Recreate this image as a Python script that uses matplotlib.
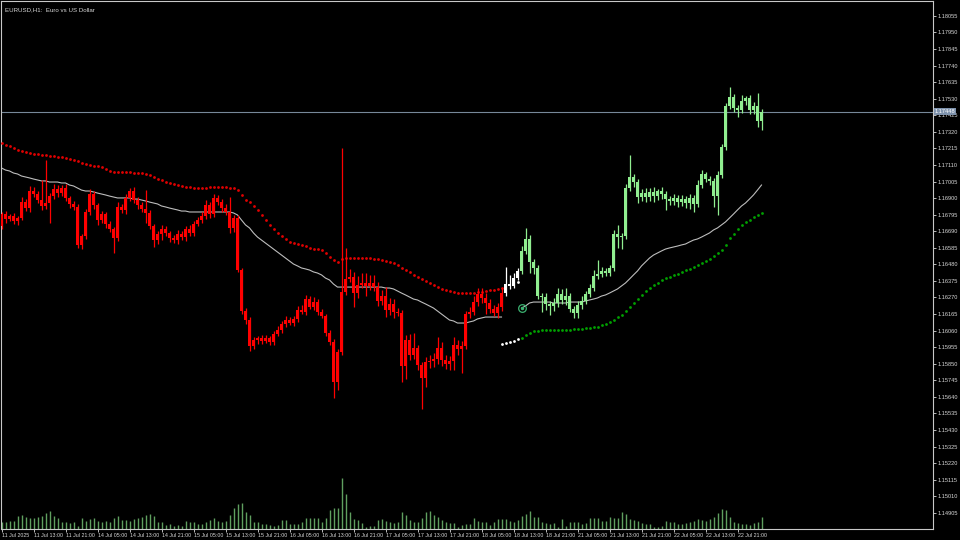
import numpy as np
import matplotlib
matplotlib.use("Agg")
import matplotlib.pyplot as plt

# ---------------- data (EURUSD H1, 11 Jul 2025 05:00 -> 23 Jul 2025 03:00) ----------------
title = "EURUSD,H1:  Euro vs US Dollar"
first_open = 1.16723
close = [
 1.16799, 1.16768, 1.16787, 1.16755, 1.16774, 1.16875, 1.16837, 1.16945, 1.16926, 1.16888,
 1.16850, 1.16869, 1.16913, 1.16958, 1.16932, 1.16964, 1.16901, 1.16863, 1.16844, 1.16603,
 1.16660, 1.16812, 1.16926, 1.16856, 1.16761, 1.16799, 1.16736, 1.16704, 1.16647, 1.16844,
 1.16825, 1.16901, 1.16945, 1.16888, 1.16856, 1.16831, 1.16806, 1.16723, 1.16634, 1.16672,
 1.16704, 1.16679, 1.16647, 1.16634, 1.16672, 1.16653, 1.16704, 1.16679, 1.16736, 1.16761,
 1.16787, 1.16856, 1.16799, 1.16901, 1.16875, 1.16837, 1.16812, 1.16711, 1.16774, 1.16444,
 1.16184, 1.16127, 1.15962, 1.16000, 1.16013, 1.15994, 1.16013, 1.15988, 1.16038, 1.16064,
 1.16102, 1.16127, 1.16108, 1.16134, 1.16191, 1.16178, 1.16260, 1.16210, 1.16241, 1.16178,
 1.16153, 1.16045, 1.15988, 1.15734, 1.15924, 1.16305, 1.16387, 1.16400, 1.16298, 1.16349,
 1.16362, 1.16343, 1.16362, 1.16336, 1.16248, 1.16279, 1.16191, 1.16229, 1.16178, 1.16172,
 1.15836, 1.16000, 1.15905, 1.15950, 1.15842, 1.15760, 1.15861, 1.15867, 1.15880, 1.15950,
 1.15874, 1.15848, 1.15867, 1.15969, 1.15943, 1.15962, 1.16165, 1.16178, 1.16241, 1.16292,
 1.16267, 1.16235, 1.16197, 1.16172, 1.16210, 1.16298, 1.16355, 1.16343, 1.16393, 1.16438,
 1.16565, 1.16641, 1.16495, 1.16457, 1.16279, 1.16273, 1.16229, 1.16216, 1.16235, 1.16292,
 1.16254, 1.16279, 1.16197, 1.16172, 1.16222, 1.16248, 1.16292, 1.16330, 1.16406, 1.16419,
 1.16438, 1.16425, 1.16457, 1.16672, 1.16653, 1.16660, 1.16964, 1.17034, 1.17002, 1.16907,
 1.16932, 1.16907, 1.16939, 1.16913, 1.16945, 1.16926, 1.16894, 1.16882, 1.16901, 1.16875,
 1.16894, 1.16869, 1.16901, 1.16863, 1.16983, 1.17053, 1.17021, 1.17008, 1.16913, 1.17046,
 1.17224, 1.17484, 1.17541, 1.17471, 1.17459, 1.17516, 1.17535, 1.17459, 1.17484, 1.17389,
 1.17448]

# wick lengths beyond the body, in points (0.00001)
wick_up = [
 15, 20, 15, 20, 15, 30, 20, 30, 25, 20, 125, 270, 20, 30, 25, 20, 25, 15, 20, 20,
 15, 20, 30, 20, 15, 20, 15, 20, 15, 30, 20, 25, 20, 25, 20, 20, 120, 20, 15, 20,
 25, 20, 15, 20, 25, 20, 20, 25, 20, 20, 25, 30, 20, 25, 20, 20, 25, 95, 20, 20,
 15, 20, 20, 20, 15, 20, 20, 15, 20, 25, 20, 25, 20, 20, 25, 30, 25, 20, 30, 20,
 20, 15, 20, 20, 20, 915, 195, 50, 30, 60, 65, 65, 50, 50, 30, 40, 60, 40, 30, 25,
 20, 30, 40, 95, 20, 20, 30, 40, 40, 70, 40, 30, 30, 50, 30, 30, 20, 30, 40, 40,
 40, 30, 25, 25, 25, 30, 110, 55, 30, 20, 30, 70, 25, 20, 20, 20, 25, 20, 30, 40,
 30, 50, 20, 20, 25, 30, 20, 25, 40, 90, 25, 20, 20, 25, 55, 20, 25, 140, 20, 20,
 25, 30, 25, 30, 15, 25, 20, 20, 25, 20, 25, 20, 25, 20, 30, 25, 15, 20, 20, 25,
 20, 20, 65, 20, 20, 40, 10, 20, 25, 80, 20]
wick_dn = [
 20, 25, 15, 20, 25, 15, 20, 25, 20, 20, 25, 20, 125, 20, 25, 20, 20, 25, 20, 20,
 25, 20, 20, 25, 30, 20, 25, 20, 95, 20, 20, 25, 20, 20, 25, 20, 65, 20, 45, 25,
 40, 20, 25, 20, 25, 20, 25, 20, 20, 15, 20, 20, 25, 20, 20, 25, 20, 30, 25, 15,
 20, 25, 30, 20, 25, 20, 15, 20, 20, 15, 20, 20, 15, 20, 20, 15, 20, 15, 20, 20,
 15, 20, 20, 100, 50, 20, 20, 20, 90, 30, 20, 65, 25, 25, 30, 25, 45, 30, 35, 20,
 105, 80, 30, 25, 30, 200, 60, 40, 35, 30, 40, 30, 35, 55, 40, 150, 20, 25, 20, 25,
 30, 70, 25, 20, 35, 25, 20, 20, 15, 15, 20, 20, 70, 40, 20, 95, 40, 55, 30, 25,
 25, 30, 20, 30, 30, 25, 20, 20, 20, 20, 20, 20, 20, 20, 70, 75, 20, 20, 30, 40,
 25, 30, 25, 35, 25, 30, 70, 25, 25, 30, 25, 30, 40, 50, 20, 20, 20, 25, 70, 120,
 20, 20, 20, 25, 45, 20, 25, 25, 25, 40, 55]

volume = [
 2100, 2190, 2400, 2490, 3900, 4200, 3690, 3210, 3210, 3690, 3990, 4890, 5490, 3900, 3210, 2190, 2190, 1890, 2010, 900,
 3210, 2490, 2910, 3210, 2490, 2190, 2400, 2190, 3210, 3900, 2700, 2700, 2400, 2910, 3210, 3690, 4200, 4500, 3900, 2190,
 2010, 1200, 1500, 900, 1200, 900, 2490, 2190, 2190, 1500, 1500, 2010, 2700, 3210, 2400, 2190, 2490, 4200, 6210, 7500,
 7710, 5010, 4200, 2190, 2190, 1500, 1500, 1200, 900, 1200, 2700, 2700, 1500, 1500, 1500, 2190, 3210, 3210, 3210, 3210,
 2190, 3210, 5700, 6210, 6210, 15300, 10500, 5190, 3000, 2700, 1710, 690, 990, 900, 2700, 3000, 2490, 2010, 1710, 2190,
 5190, 4200, 2700, 2190, 2190, 3210, 5190, 5400, 4200, 3690, 2700, 2010, 1710, 1710, 690, 1200, 1500, 1500, 3210, 2400,
 2190, 2190, 1200, 2190, 3000, 3000, 3000, 2490, 2190, 2700, 3990, 4500, 5400, 3690, 3510, 2190, 1710, 1500, 1710, 690,
 2910, 900, 2190, 2190, 2010, 1500, 1710, 3210, 3210, 3210, 2490, 2490, 3510, 3210, 3210, 5190, 4500, 3000, 2700, 2400,
 1710, 1500, 1500, 690, 690, 900, 2490, 2010, 2010, 1500, 1500, 1710, 2190, 2490, 3000, 2700, 2490, 3000, 3690, 4890,
 5910, 5700, 3690, 2190, 1710, 1500, 1500, 1200, 1710, 2190, 3690]

# trend regime of each bar: down (red), neutral (white), up (green)
regime = ["down"] * 126 + ["neutral"] * 4 + ["up"] * 61

# trailing-stop dots
upper_red = [
 1.17249, 1.17237, 1.17231, 1.17218, 1.17205, 1.17199, 1.17192, 1.17186, 1.17180, 1.17180,
 1.17173, 1.17173, 1.17167, 1.17167, 1.17161, 1.17161, 1.17154, 1.17148, 1.17142, 1.17135,
 1.17123, 1.17116, 1.17110, 1.17104, 1.17104, 1.17097, 1.17085, 1.17072, 1.17066, 1.17066,
 1.17066, 1.17066, 1.17066, 1.17059, 1.17059, 1.17059, 1.17053, 1.17047, 1.17034, 1.17021,
 1.17015, 1.17002, 1.16996, 1.16989, 1.16983, 1.16977, 1.16970, 1.16970, 1.16964, 1.16964,
 1.16964, 1.16964, 1.16970, 1.16970, 1.16970, 1.16970, 1.16970, 1.16964, 1.16964, 1.16951,
 1.16920, 1.16888, 1.16875, 1.16850, 1.16825, 1.16793, 1.16761, 1.16730, 1.16704, 1.16679,
 1.16660, 1.16641, 1.16622, 1.16615, 1.16609, 1.16603, 1.16596, 1.16584, 1.16577, 1.16577,
 1.16571, 1.16552, 1.16527, 1.16508, 1.16495, 1.16514, 1.16520, 1.16520, 1.16520, 1.16520,
 1.16520, 1.16520, 1.16520, 1.16514, 1.16514, 1.16508, 1.16501, 1.16495, 1.16489, 1.16476,
 1.16457, 1.16444, 1.16432, 1.16413, 1.16400, 1.16387, 1.16374, 1.16362, 1.16349, 1.16336,
 1.16324, 1.16317, 1.16311, 1.16305, 1.16298, 1.16298, 1.16298, 1.16298, 1.16298, 1.16305,
 1.16305, 1.16311, 1.16317, 1.16317, 1.16324, 1.16330]
upper_red_start = 0
upper_white = [1.16368]
upper_white_start = 129
lower_white = [1.15975, 1.15981, 1.15988, 1.15994, 1.16007]
lower_white_start = 125
lower_green = [
 1.16013, 1.16032, 1.16045, 1.16057, 1.16057, 1.16064, 1.16064, 1.16064, 1.16064, 1.16064,
 1.16064, 1.16064, 1.16064, 1.16070, 1.16070, 1.16070, 1.16077, 1.16077, 1.16083, 1.16083,
 1.16096, 1.16102, 1.16115, 1.16127, 1.16146, 1.16159, 1.16184, 1.16210, 1.16235, 1.16260,
 1.16286, 1.16311, 1.16330, 1.16349, 1.16362, 1.16381, 1.16393, 1.16400, 1.16413, 1.16419,
 1.16432, 1.16444, 1.16451, 1.16463, 1.16476, 1.16489, 1.16501, 1.16514, 1.16533, 1.16552,
 1.16571, 1.16603, 1.16647, 1.16672, 1.16704, 1.16730, 1.16749, 1.16761, 1.16780, 1.16793,
 1.16806]
lower_green_start = 130

# moving-average (silver) line, two segments
ma_down = [
 1.17091, 1.17078, 1.17072, 1.17059, 1.17053, 1.17040, 1.17034, 1.17028, 1.17021, 1.17015,
 1.17009, 1.17009, 1.17002, 1.17002, 1.17002, 1.16996, 1.16996, 1.16983, 1.16977, 1.16964,
 1.16951, 1.16945, 1.16945, 1.16939, 1.16932, 1.16926, 1.16920, 1.16913, 1.16907, 1.16901,
 1.16901, 1.16901, 1.16901, 1.16894, 1.16894, 1.16888, 1.16882, 1.16875, 1.16869, 1.16863,
 1.16850, 1.16844, 1.16837, 1.16831, 1.16825, 1.16818, 1.16818, 1.16812, 1.16812, 1.16812,
 1.16812, 1.16812, 1.16812, 1.16812, 1.16812, 1.16812, 1.16812, 1.16812, 1.16806, 1.16793,
 1.16761, 1.16730, 1.16711, 1.16679, 1.16653, 1.16634, 1.16615, 1.16596, 1.16577, 1.16558,
 1.16539, 1.16520, 1.16501, 1.16482, 1.16470, 1.16457, 1.16451, 1.16444, 1.16432, 1.16425,
 1.16413, 1.16393, 1.16381, 1.16355, 1.16336, 1.16336, 1.16336, 1.16336, 1.16336, 1.16336,
 1.16336, 1.16336, 1.16336, 1.16336, 1.16336, 1.16336, 1.16330, 1.16330, 1.16324, 1.16311,
 1.16298, 1.16286, 1.16273, 1.16260, 1.16254, 1.16241, 1.16229, 1.16216, 1.16203, 1.16184,
 1.16165, 1.16146, 1.16127, 1.16121, 1.16108, 1.16108, 1.16108, 1.16115, 1.16121, 1.16134,
 1.16140, 1.16146, 1.16146, 1.16146, 1.16146, 1.16146]
ma_down_start = 0
ma_up = [
 1.16203, 1.16216, 1.16235, 1.16241, 1.16241, 1.16241, 1.16241, 1.16241, 1.16235, 1.16235,
 1.16235, 1.16235, 1.16241, 1.16241, 1.16241, 1.16241, 1.16248, 1.16254, 1.16260, 1.16267,
 1.16279, 1.16286, 1.16298, 1.16311, 1.16324, 1.16343, 1.16362, 1.16387, 1.16413, 1.16438,
 1.16470, 1.16495, 1.16520, 1.16539, 1.16552, 1.16565, 1.16577, 1.16584, 1.16590, 1.16596,
 1.16603, 1.16609, 1.16622, 1.16634, 1.16641, 1.16653, 1.16666, 1.16679, 1.16698, 1.16711,
 1.16730, 1.16749, 1.16774, 1.16799, 1.16825, 1.16850, 1.16869, 1.16894, 1.16920, 1.16951,
 1.16983]
ma_up_start = 130
signal_bar = 130   # circle marker where the up-trend line starts

bid_price = 1.17448

y_ticks = [1.18055, 1.17950, 1.17845, 1.17740, 1.17635, 1.17530, 1.17425, 1.17320, 1.17215,
           1.17110, 1.17005, 1.16900, 1.16795, 1.16690, 1.16585, 1.16480, 1.16375, 1.16270,
           1.16165, 1.16060, 1.15955, 1.15850, 1.15745, 1.15640, 1.15535, 1.15430, 1.15325,
           1.15220, 1.15115, 1.15010, 1.14905]
x_tick_bars = [0, 8, 16, 24, 32, 40, 48, 56, 64, 72, 80, 88, 96, 104, 112, 120, 128,
               136, 144, 152, 160, 168, 176, 184]
x_tick_labels = ["11 Jul 2025", "11 Jul 13:00", "11 Jul 21:00", "14 Jul 05:00", "14 Jul 13:00",
                 "14 Jul 21:00", "15 Jul 05:00", "15 Jul 13:00", "15 Jul 21:00", "16 Jul 05:00",
                 "16 Jul 13:00", "16 Jul 21:00", "17 Jul 05:00", "17 Jul 13:00", "17 Jul 21:00",
                 "18 Jul 05:00", "18 Jul 13:00", "18 Jul 21:00", "21 Jul 05:00", "21 Jul 13:00",
                 "21 Jul 21:00", "22 Jul 05:00", "22 Jul 13:00", "22 Jul 21:00"]

# ---------------- styling ----------------
plt.rcParams['font.family'] = ['Liberation Sans', 'DejaVu Sans']
BG = "black"
FG = "#d8d8d8"
FRAME = "#c8c8c8"
col = {"down": "#ff0000", "neutral": "#ffffff", "up": "#90ee90"}

W, H = 960, 540
fig = plt.figure(figsize=(W / 100, H / 100), dpi=100, facecolor=BG)
rect = [1 / W, 11 / H, 932 / W, 528 / H]

# volume axes (behind)
axv = fig.add_axes(rect, facecolor=BG)
n = len(close)
idx = np.arange(n)
vol = np.array(volume, dtype=float)
axv.vlines(idx, 0, vol, color="#5f9f5f", linewidth=1.0)
axv.set_xlim(-0.125, 232.875)
axv.set_ylim(0, vol.max() * 528 / 51)
axv.axis("off")

ax = fig.add_axes(rect, facecolor="none")
ax.set_xlim(-0.125, 232.875)
ax.set_ylim(1.148021, 1.181497)

c = np.array(close)
o = np.concatenate([[first_open], c[:-1]])
top = np.maximum(o, c)
bot = np.minimum(o, c)
hi = top + np.array(wick_up) / 1e5
lo = bot - np.array(wick_dn) / 1e5
colors = [col[r] for r in regime]

# bid line
ax.axhline(bid_price, color="#778899", linewidth=0.8, zorder=1)

# MA line segments
ax.plot(np.arange(ma_down_start, ma_down_start + len(ma_down)), ma_down,
        color="#bdbdbd", linewidth=0.8, zorder=2)
ax.plot(np.arange(ma_up_start, ma_up_start + len(ma_up)), ma_up,
        color="#bdbdbd", linewidth=0.8, zorder=2)

# dots
def dots(vals, start, color):
    ax.plot(np.arange(start, start + len(vals)), vals, linestyle="none", marker="o",
            markersize=2.0, markeredgewidth=0, color=color, zorder=3)

dots(upper_red, upper_red_start, "#e00000")
dots(upper_white, upper_white_start, "#ffffff")
dots(lower_white, lower_white_start, "#ffffff")
dots(lower_green, lower_green_start, "#00a000")

# candles
ax.vlines(idx, lo, hi, colors=colors, linewidth=0.9, zorder=4)
body_h = np.maximum(top - bot, 0.00005)
ax.bar(idx, body_h, bottom=bot, width=0.68, color=colors, linewidth=0, zorder=5)

# signal circle
ax.plot([signal_bar], [ma_up[signal_bar - ma_up_start]], marker="o", markersize=5.5,
        markerfacecolor="none", markeredgecolor="#3cb371", markeredgewidth=0.9, zorder=6)
ax.plot([signal_bar], [ma_up[signal_bar - ma_up_start]], marker="o", markersize=1.5,
        color="#3cb371", zorder=6)

# frame & ticks
for s in ax.spines.values():
    s.set_color(FRAME)
    s.set_linewidth(0.8)
ax.yaxis.tick_right()
ax.set_yticks(y_ticks)
ax.set_yticklabels([f"{v:.5f}" for v in y_ticks])
ax.set_xticks(x_tick_bars)
ax.set_xticklabels(x_tick_labels, ha="left")
ax.tick_params(axis="y", colors=FG, length=2.2, width=0.6, labelsize=4.1, pad=1.0)
ax.tick_params(axis="x", colors=FG, length=2.2, width=0.6, labelsize=3.8, pad=0.6)

# title
ax.text(0.004, 0.988, title, transform=ax.transAxes, color=FG, fontsize=4.4,
        ha="left", va="top")

# bid price label box
ax.annotate(f"{bid_price:.5f}", xy=(1.0, bid_price), xycoords=("axes fraction", "data"),
            xytext=(1.4, 0), textcoords="offset points", ha="left", va="center",
            fontsize=4.1, color="white", zorder=10, annotation_clip=False,
            bbox=dict(boxstyle="square,pad=0.15", facecolor="#7f93ad", edgecolor="none"))

fig.savefig("out.png", dpi=100, facecolor=BG)
